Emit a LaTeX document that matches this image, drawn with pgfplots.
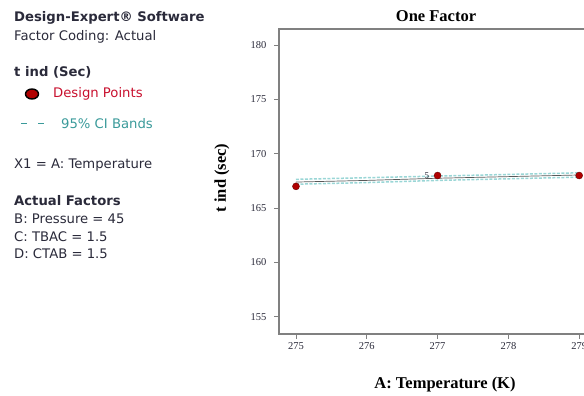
\documentclass[border=0pt]{standalone}
\usepackage{fontspec}
\setmainfont{Liberation Serif}
\newfontfamily\uifont{DejaVu Sans}
\usepackage{pgfplots}
\pgfplotsset{compat=1.18}
\definecolor{dered}{HTML}{B00000}
\definecolor{dtext}{HTML}{C8102E}
\definecolor{teal}{HTML}{3A9A9A}
\definecolor{cyanband}{HTML}{9AD6D6}
\definecolor{spine}{HTML}{808080}
\definecolor{txt}{HTML}{2A2A3A}
\begin{document}
\begin{tikzpicture}[x=1pt,y=1pt]
\useasboundingbox (0,0) rectangle (584,396);
\begin{scope}[every node/.style={anchor=west,inner sep=0pt,font=\uifont\fontsize{13.2}{15}\selectfont,text=txt}]
\node at (14,378) {\bfseries Design-Expert\textregistered\ Software};
\node at (14,359) {Factor Coding: Actual};
\node at (14,324) {\bfseries t ind (Sec)};
\node[text=dtext] at (53,302) {Design Points};
\node[text=teal] at (61,272) {95\% CI Bands};
\node at (14,231) {X1 = A: Temperature};
\node at (14,195) {\bfseries Actual Factors};
\node at (14,177) {B: Pressure = 45};
\node at (14,159) {C: TBAC = 1.5};
\node at (14,142) {D: CTAB = 1.5};
\end{scope}
\fill[dered,draw=black,line width=1.4pt] (32,302) ellipse (6.5pt and 5pt);
\draw[teal,line width=1pt] (21,272) -- (27,272) (38,272) -- (44,272);
\node[font=\bfseries\fontsize{16.5}{18}\selectfont] at (436,380) {One Factor};
\node[font=\bfseries\fontsize{16.5}{18}\selectfont] at (445,11) {A: Temperature (K)};
\node[font=\bfseries\fontsize{16.5}{18}\selectfont,rotate=90] at (222,218) {t ind (sec)};
\begin{axis}[
  at={(279pt,62pt)}, anchor=south west, scale only axis,
  width=320pt, height=305pt,
  xmin=274.76, xmax=279.28, ymin=153.4, ymax=181.5,
  xtick={275,276,277,278,279}, ytick={155,160,165,170,175,180},
  tick align=outside, major tick length=5pt,
  xtick pos=bottom, ytick pos=left,
  axis line style={spine,line width=1.5pt},
  tick style={spine,line width=0.8pt},
  yticklabel style={xshift=-4pt},
  /pgf/number format/assume math mode=true,
  /pgf/number format/1000 sep={},
  tick label style={font=\fontsize{10.5}{11}\selectfont,text=txt},
  clip=false,
]
\addplot[cyanband,dash pattern=on 3pt off 1.5pt,line width=1.5pt] coordinates {(275,167.65) (276,167.8) (277,167.95) (278,168.1) (279,168.25)};
\addplot[cyanband,dash pattern=on 3pt off 1.5pt,line width=1.5pt] coordinates {(275,167.2) (276,167.35) (277,167.55) (278,167.7) (279,167.85)};
\addplot[gray!70!black,line width=0.7pt] coordinates {(275,167.4) (276,167.55) (277,167.75) (278,167.9) (279,168.05)};
\addplot[only marks,mark=*,mark size=3.5pt,mark options={fill=dered,draw=dered!60!black}] coordinates {(275,167) (277,168) (279,168)};
\node[anchor=east,font=\fontsize{9}{9}\selectfont,text=txt] at (axis cs:276.93,168) {5};
\end{axis}
\end{tikzpicture}
\end{document}
